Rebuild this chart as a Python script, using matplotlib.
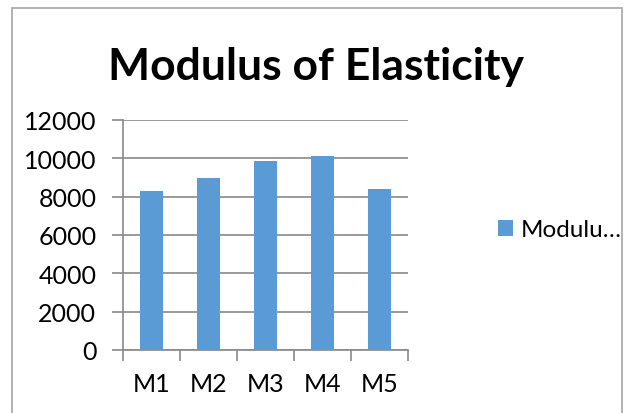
#Bar chart of modulus of elasticity for five mixes, Excel style
import matplotlib
matplotlib.use('Agg')
import matplotlib.pyplot as plt
from matplotlib.patches import Rectangle

#Data
categories = ['M1', 'M2', 'M3', 'M4', 'M5']
modulus = [8300, 8975, 9875, 10135, 8385]
y_ticks = [0, 2000, 4000, 6000, 8000, 10000, 12000]
series_label = 'Modulu\u2026'

plt.rcParams['font.family'] = ['Lato', 'DejaVu Sans']

W, H = 627, 414
fig = plt.figure(figsize=(W/100, H/100), dpi=100)

# Axes placed in pixel terms
ax = fig.add_axes([122.7/W, 1-351/H, (408-122.7)/W, (351-121)/H])

grid_col = '#898989'
bars = ax.bar(range(len(categories)), modulus, width=0.4, color='#5B9BD5',
              label=series_label, zorder=3)

ax.set_xlim(-0.5, len(categories)-0.5)
ax.set_ylim(0, 12000)
ax.set_yticks(y_ticks)
ax.set_yticklabels([str(v) for v in y_ticks])
ax.set_xticks(range(len(categories)))
ax.set_xticklabels(categories)
ax.set_xticks([i-0.5 for i in range(len(categories)+1)], minor=True)

ax.yaxis.grid(True, color=grid_col, lw=1.2, zorder=0)
for s in ['top', 'right']:
    ax.spines[s].set_visible(False)
for s in ['left', 'bottom']:
    ax.spines[s].set_color(grid_col)
    ax.spines[s].set_linewidth(1.2)

ax.tick_params(axis='y', direction='out', length=8, width=1.2, color=grid_col,
               labelsize=18, pad=11)
ax.tick_params(axis='x', which='major', length=0, labelsize=18, pad=16)
ax.tick_params(axis='x', which='minor', direction='out', length=8, width=1.2,
               color=grid_col)

# Title
fig.text(316/W, 1-80/H, 'Modulus of Elasticity', ha='center', va='baseline',
         fontsize=32, fontweight='bold')

# Legend
fig.legend(handles=[bars], loc='center left', bbox_to_anchor=(498/W, 1-231/H),
           frameon=False, fontsize=17.5, handlelength=0.62, handleheight=0.62,
           handletextpad=0.3, borderpad=0, borderaxespad=0)

# Chart border
fig.patches.append(Rectangle((12/W, -0.05), (622-12)/W, 1.05-9/H,
                             transform=fig.transFigure, fill=False,
                             edgecolor='#a6a6a6', lw=1.2))

fig.savefig('out.png', dpi=100)
